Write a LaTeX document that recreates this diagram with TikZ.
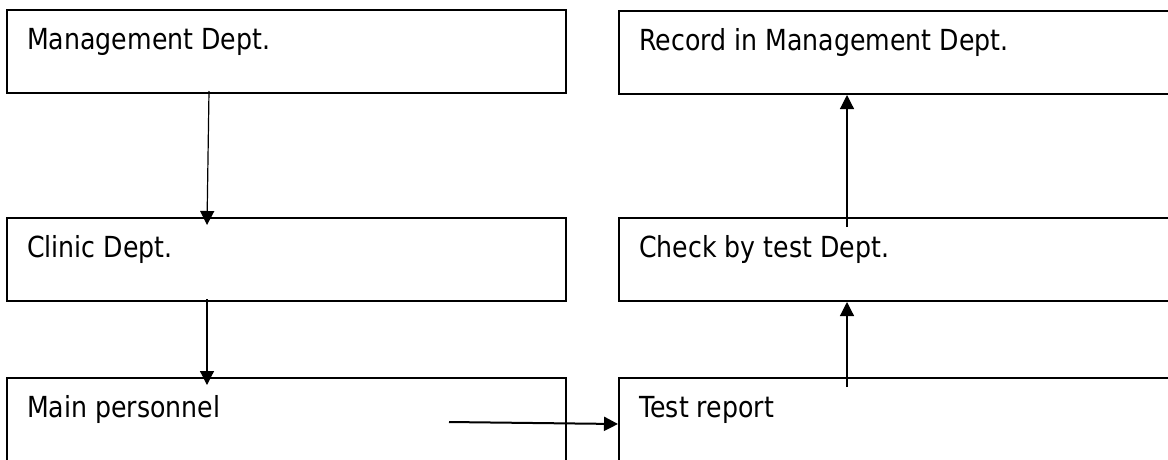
\documentclass[tikz,border=0pt]{standalone}
\usepackage{fontspec}
\setmainfont{DejaVu Sans}[FakeStretch=0.87]
\usetikzlibrary{arrows.meta,calc}
\begin{document}
\begin{tikzpicture}[x=1pt,y=-1pt,
  box/.style={draw=black,line width=2pt,anchor=north west,minimum width=559pt,minimum height=83pt,inner sep=0pt},
  lbl/.style={anchor=base west,inner sep=0pt,font=\fontsize{29}{34}\selectfont},
  arr/.style={line width=1.2pt,-{Triangle[length=14pt,width=14pt]}},
  harr/.style={line width=2pt,-{Triangle[length=14pt,width=14pt]}}]
\useasboundingbox (0,0) rectangle (1168,459);
\clip (0,0) rectangle (1168,459);
\fill[white] (0,0) rectangle (1168,459);
% left column
\node[box] (m) at (6,9) {};
\node[box] (c) at (6,217) {};
\node[box] (p) at (6,377) {};
% right column
\node[box] (r) at (618,10) {};
\node[box] (k) at (618,217) {};
\node[box] (t) at (618,377) {};
% labels
\node[lbl] (ml) at ($(m.north west)+(21,40.5)$) {Management Dept.};
\node[lbl] (cl) at ($(c.north west)+(21,40.5)$) {Clinic Dept.};
\node[lbl] (pl) at ($(p.north west)+(21,40.5)$) {Main personnel};
\node[lbl] (rl) at ($(r.north west)+(21,40.5)$) {Record in Management Dept.};
\node[lbl] (kl) at ($(k.north west)+(21,40.5)$) {Check by test Dept.};
\node[lbl] (tl) at ($(t.north west)+(21,40.5)$) {Test report};
% connectors
\draw[arr] ($(m.south west)+(203,-3)$) -- ($(c.north west)+(201,8)$);
\draw[arr] ($(c.south west)+(201,-3)$) -- ($(p.north west)+(201,8)$);
\draw[harr] ($(p.north west)+(443,45)$) -- ($(t.north west)+(0,47)$);
\draw[arr] ($(t.north west)+(229,10)$) -- ($(k.south west)+(229,0)$);
\draw[arr] ($(k.north west)+(229,10)$) -- ($(r.south west)+(229,0)$);
\end{tikzpicture}
\end{document}
